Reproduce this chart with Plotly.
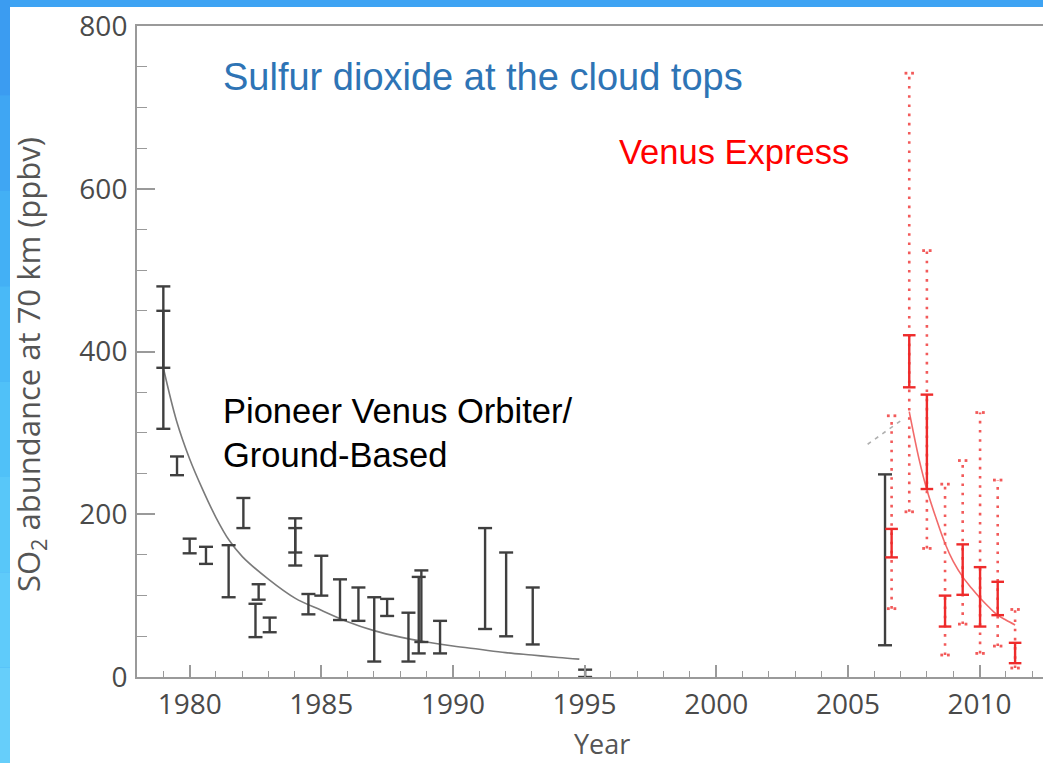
import plotly.graph_objects as go

# ---- Pioneer Venus Orbiter / ground-based SO2 measurements (ppbv) ----
pvo_years = [1979.0, 1979.0, 1979.52, 1980.0, 1980.62, 1981.48, 1982.04, 1982.5,
             1982.62, 1983.04, 1984.01, 1984.01, 1984.51, 1985.0, 1985.71,
             1986.41, 1987.01, 1987.5, 1988.31, 1988.7, 1988.8, 1989.51,
             1991.22, 1992.02, 1993.03, 1995.02]
pvo_low = [305, 380, 248, 152, 139, 98, 183, 49, 95, 55, 153, 137, 77, 100, 70,
           69, 19, 75, 19, 29, 43, 29, 59, 50, 40, 0]
pvo_high = [450, 480, 271, 170, 160, 162, 220, 90, 114, 73, 195, 183, 102, 149,
            120, 110, 98, 96, 79, 123, 131, 69, 183, 153, 110, 9]

# Decay curve through the early record
pvo_fit_years = [1979.0, 1979.5, 1980.0, 1980.5, 1981.0, 1981.5, 1982.0, 1983.0,
                 1984.0, 1985.0, 1986.0, 1987.0, 1988.0, 1989.0, 1990.0,
                 1991.0, 1992.0, 1993.0, 1994.0, 1994.8]
pvo_fit_values = [380, 315, 268, 230, 196, 168, 148, 120, 97, 82, 68, 57, 49,
                  43, 38, 34, 30, 27, 24, 22]

# Ground-based measurement during the Venus Express era
ground_years = [2006.41]
ground_low = [39]
ground_high = [249]

# ---- Venus Express SO2 (ppbv): inner (solid) and full (dotted) ranges ----
vex_years = [2006.66, 2007.33, 2008.0, 2008.69, 2009.36, 2010.02, 2010.69, 2011.35]
vex_low = [147, 356, 231, 62, 101, 62, 76, 17]
vex_high = [182, 420, 347, 100, 163, 135, 117, 42]
vex_full_low = [84, 203, 158, 27, 65, 29, 38, 11]
vex_full_high = [321, 742, 524, 237, 266, 325, 242, 83]

vex_fit_years = [2007.33, 2007.7, 2008.0, 2008.35, 2008.69, 2009.0, 2009.36,
                 2009.7, 2010.02, 2010.35, 2010.69, 2011.0, 2011.35]
vex_fit_values = [326, 268, 230, 195, 164, 142, 123, 109, 97, 86, 76, 70, 64]

bridge_years = [2005.75, 2007.14]
bridge_values = [286, 318]

x_range = [1978.0, 2012.41]
y_range = [0, 800]

BLACK = "#3f3f3f"
RED = "#ee2b2b"
RED_DOT = "#f25a5a"
AXIS = "#9a9a9a"


def segments(xs, lo, hi):
    px, py = [], []
    for x, a, b in zip(xs, lo, hi):
        px += [x, x, None]
        py += [a, b, None]
    return px, py


def ends(xs, lo, hi):
    return list(xs) + list(xs), list(lo) + list(hi)


fig = go.Figure()

# fitted curves
fig.add_trace(go.Scatter(x=pvo_fit_years, y=pvo_fit_values, mode="lines",
                         line=dict(color="#7a7a7a", width=1.6, shape="spline"),
                         hoverinfo="skip"))
fig.add_trace(go.Scatter(x=bridge_years, y=bridge_values, mode="lines",
                         line=dict(color="#b0b0b0", width=1.6, dash="4px,5px"),
                         hoverinfo="skip"))
fig.add_trace(go.Scatter(x=vex_fit_years, y=vex_fit_values, mode="lines",
                         line=dict(color="#f26a6a", width=1.6, shape="spline"),
                         hoverinfo="skip"))

# Venus Express full ranges (dotted)
dx, dy = segments(vex_years, vex_full_low, vex_full_high)
fig.add_trace(go.Scatter(x=dx, y=dy, mode="lines",
                         line=dict(color=RED_DOT, width=2.6, dash="2.6px,6.6px"),
                         hoverinfo="skip"))
cap_off = 0.125
cx, cy = ends(vex_years, vex_full_low, vex_full_high)
fig.add_trace(go.Scatter(x=[v - cap_off for v in cx] + [v + cap_off for v in cx],
                         y=cy + cy, mode="markers",
                         marker=dict(symbol="square", size=2.8, color=RED_DOT,
                                     line=dict(width=0)),
                         hoverinfo="skip"))

# black error bars
for xs, lo, hi in [(pvo_years, pvo_low, pvo_high),
                   (ground_years, ground_low, ground_high)]:
    sx, sy = segments(xs, lo, hi)
    fig.add_trace(go.Scatter(x=sx, y=sy, mode="lines",
                             line=dict(color=BLACK, width=2.4), hoverinfo="skip"))
    ex, ey = ends(xs, lo, hi)
    fig.add_trace(go.Scatter(x=ex, y=ey, mode="markers",
                             marker=dict(symbol="line-ew", size=10,
                                         line=dict(color=BLACK, width=2.4)),
                             hoverinfo="skip"))

# Venus Express inner ranges (solid)
sx, sy = segments(vex_years, vex_low, vex_high)
fig.add_trace(go.Scatter(x=sx, y=sy, mode="lines",
                         line=dict(color=RED, width=2.4), hoverinfo="skip"))
ex, ey = ends(vex_years, vex_low, vex_high)
fig.add_trace(go.Scatter(x=ex, y=ey, mode="markers",
                         marker=dict(symbol="line-ew", size=9,
                                     line=dict(color=RED, width=2.4)),
                         hoverinfo="skip"))

W, H = 1043, 763
ML, MR, MT, MB = 137, 0, 26, 86
PW, PH = W - ML - MR, H - MT - MB


def px_x(p):
    return (p - ML) / PW


def px_y(p):
    return (H - MB - p) / PH


# slide frame: blue border with white panel
shapes = []
frame_cols = ["#3b9cf1", "#3fa6f3", "#43b0f5", "#49b9f7", "#50c1f8", "#58c7f9",
              "#5fcbfa", "#66cefa"]
band = H / len(frame_cols)
for i, c in enumerate(frame_cols):
    shapes.append(dict(type="rect", xref="paper", yref="paper", layer="below",
                       x0=px_x(0), x1=px_x(10), y0=px_y(band * (i + 1)),
                       y1=px_y(band * i), fillcolor=c, line=dict(width=0)))
shapes.append(dict(type="rect", xref="paper", yref="paper", layer="below",
                   x0=px_x(10), x1=px_x(W), y0=px_y(H), y1=px_y(7),
                   fillcolor="white", line=dict(width=0)))

annotations = [
    dict(text="Sulfur dioxide at the cloud tops", x=px_x(221), y=px_y(77),
         xanchor="left", yanchor="middle",
         font=dict(family="Liberation Sans, Arial", size=38, color="#2e74b5")),
    dict(text="Venus Express", x=px_x(617), y=px_y(152), xanchor="left",
         yanchor="middle",
         font=dict(family="Liberation Sans, Arial", size=34.5, color="#ff0000")),
    dict(text="Pioneer Venus Orbiter/", x=px_x(221), y=px_y(411), xanchor="left",
         yanchor="middle",
         font=dict(family="Liberation Sans, Arial", size=34.5, color="#000000")),
    dict(text="Ground-Based", x=px_x(221), y=px_y(455), xanchor="left",
         yanchor="middle",
         font=dict(family="Liberation Sans, Arial", size=34.5, color="#000000")),
    dict(text="Year", x=px_x(602), y=px_y(743), xanchor="center",
         yanchor="middle",
         font=dict(family="Open Sans", size=27, color="#555555")),
    dict(text="SO<sub>2</sub> abundance at 70 km (ppbv)", x=px_x(30),
         y=px_y(365), xanchor="center", yanchor="middle", textangle=-90,
         font=dict(family="Open Sans", size=31, color="#555555")),
]
for a in annotations:
    a.update(xref="paper", yref="paper", showarrow=False)

fig.update_layout(
    width=W, height=H,
    margin=dict(l=ML, r=MR, t=MT, b=MB, pad=0),
    paper_bgcolor="#3ea3f3",
    plot_bgcolor="rgba(0,0,0,0)",
    showlegend=False,
    shapes=shapes,
    annotations=annotations,
    xaxis=dict(range=x_range, showgrid=False, zeroline=False,
               showline=True, linecolor=AXIS, linewidth=2, mirror=True,
               ticks="inside", ticklen=12, tickwidth=1.6, tickcolor=AXIS,
               tick0=1980, dtick=5, ticklabelstandoff=1,
               tickfont=dict(family="Open Sans", size=28, color="#4a4a4a"),
               minor=dict(dtick=1, ticks="inside", ticklen=6, tickwidth=1.4,
                          tickcolor=AXIS, showgrid=False)),
    yaxis=dict(range=y_range, showgrid=False, zeroline=False,
               showline=True, linecolor=AXIS, linewidth=2, mirror=False,
               ticks="inside", ticklen=18, tickwidth=1.6, tickcolor=AXIS,
               tick0=0, dtick=200, ticklabelstandoff=2,
               tickfont=dict(family="Open Sans", size=28, color="#4a4a4a"),
               minor=dict(dtick=50, ticks="inside", ticklen=10, tickwidth=1.4,
                          tickcolor=AXIS, showgrid=False)),
)

fig.write_html("out.html")
